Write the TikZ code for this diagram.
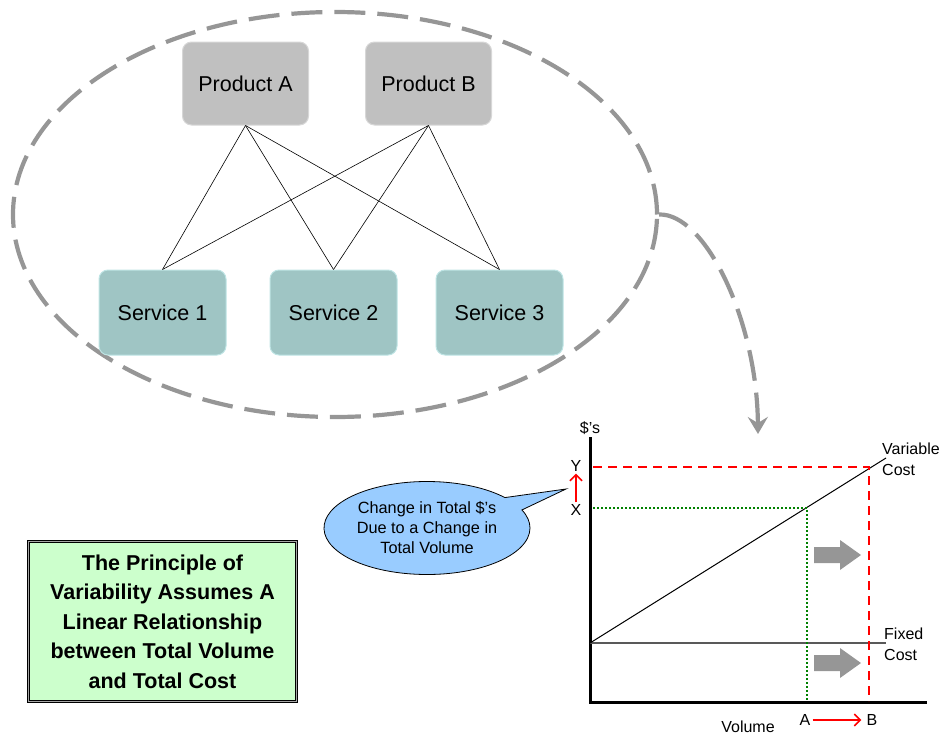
\documentclass[tikz,border=0pt]{standalone}
\usepackage{fontspec}
\setmainfont{Liberation Sans}
\usetikzlibrary{arrows.meta,shapes.geometric,shapes.callouts,calc}

\definecolor{prodgray}{RGB}{192,192,192}
\definecolor{prodedge}{RGB}{215,215,215}
\definecolor{svcteal}{RGB}{159,197,196}
\definecolor{svcedge}{RGB}{190,228,228}
\definecolor{ringgray}{RGB}{150,150,150}
\definecolor{bubbleblue}{RGB}{153,204,255}
\definecolor{notegreen}{RGB}{204,255,204}
\definecolor{costred}{RGB}{255,0,0}
\definecolor{volgreen}{RGB}{0,128,0}

\tikzset{
  box/.style={rounded corners=9pt, inner sep=0pt, text=black,
    font=\fontsize{21.5}{26}\selectfont},
  prodbox/.style={box, fill=prodgray, draw=prodedge, line width=1pt,
    minimum width=126pt, minimum height=83pt},
  svcbox/.style={box, fill=svcteal, draw=svcedge, line width=1pt,
    minimum width=127pt, minimum height=85pt},
  link/.style={draw=black, line width=0.6pt},
  ringline/.style={draw=ringgray, line width=4.2pt, dash pattern=on 31pt off 12pt},
  axis/.style={draw=black, line width=3pt},
  lbl/.style={font=\fontsize{16}{21}\selectfont, inner sep=2pt},
  reddash/.style={draw=costred, line width=2pt, dash pattern=on 9pt off 6pt},
  greendot/.style={draw=volgreen, line width=2pt, dash pattern=on 2pt off 2pt},
  redarrow/.style={draw=costred, line width=1.6pt,
    -{Straight Barb[length=6pt,width=12pt,line width=1.6pt]}},
  blockarrow/.style={fill=ringgray},
}

\begin{document}
\begin{tikzpicture}[x=1pt,y=-1pt]
\useasboundingbox (0,0) rectangle (945,736);

% grouping ring around products and services
\node[ringline, ellipse, minimum width=644pt, minimum height=405pt, inner sep=0pt]
  (ring) at (335,214.5) {};

% products and services
\node[prodbox] (pa) at (245.5,83.5) {Product A};
\node[prodbox] (pb) at (428.5,83.5) {Product B};
\node[svcbox] (s1) at (162.5,312.5) {Service 1};
\node[svcbox] (s2) at (333.5,312.5) {Service 2};
\node[svcbox] (s3) at (499.5,312.5) {Service 3};

\foreach \p in {pa,pb}
  \foreach \s in {s1,s2,s3}
    \draw[link] (\p.south) -- (\s.north);

% curved pointer down to the chart
\coordinate (chartin) at (758,434);
\draw[ringline, -{Stealth[length=17pt,width=20pt,inset=6pt]}]
  (ring.east) .. controls (705,213) and (757,320) .. (chartin);

% chart axes
\coordinate (ytop) at (590,437);
\coordinate (orig) at (590,702);
\coordinate (xend) at (927,702);
\draw[axis] (ytop) -- (orig) -- (xend);
\node[lbl, anchor=south] (dollars) at (590,437) {\$’s};

% cost lines
\coordinate (fc0) at (590,643);
\coordinate (fc1) at (886,643);
\coordinate (vc1) at (886,458);
\draw[draw=black!65, line width=1.4pt] (fc0) -- (fc1);
\draw[draw=black, line width=1pt] (fc0) -- (vc1);

% volume guides
\coordinate (ptA) at (807,508);
\coordinate (ptB) at (869,467);
\draw[greendot] (593,508) -- (ptA) -- (807,701);
\draw[reddash] (593,467) -- (ptB) -- (869,701);

% labels
\node[lbl, anchor=west, align=left] (vclbl) at (880,459) {Variable\\Cost};
\node[lbl, anchor=west, align=left] (fclbl) at (882,644) {Fixed\\Cost};
\node[lbl] (ylbl) at (576,466) {Y};
\node[lbl] (xlbl) at (576,510) {X};
\draw[redarrow] (xlbl.north) -- (ylbl.south);
\node[lbl] (albl) at (805,720) {A};
\node[lbl] (blbl) at (872,720) {B};
\draw[redarrow, shorten >=3pt] (albl.east) -- (blbl.west);
\node[lbl] (vol) at (748,727) {Volume};

% shift arrows
\fill[blockarrow] (814,547) -- (840,547) -- (840,540) -- (861,555) -- (840,570) -- (840,563) -- (814,563) -- cycle;
\fill[blockarrow] (814,655) -- (840,655) -- (840,648) -- (861,663) -- (840,678) -- (840,671) -- (814,671) -- cycle;

% callout
\node[ellipse callout, draw=black, line width=0.8pt, fill=bubbleblue,
  minimum width=206pt, minimum height=93pt, inner sep=0pt,
  callout absolute pointer={(566,489)}, callout pointer arc=18,
  align=center, font=\fontsize{16.3}{20}\selectfont] (bubble) at (427,528)
  {Change in Total \$’s\\Due to a Change in\\Total Volume};

% statement box
\node[draw=black, double=black!35, double distance=1.6pt, line width=0.8pt,
  fill=notegreen, minimum width=268pt, minimum height=160pt,
  align=center, font=\fontsize{21.5}{29.5}\selectfont\bfseries] (note) at (162.5,621.5)
  {The Principle of\\Variability Assumes A\\Linear Relationship\\between Total Volume\\and Total Cost};
\end{tikzpicture}
\end{document}
